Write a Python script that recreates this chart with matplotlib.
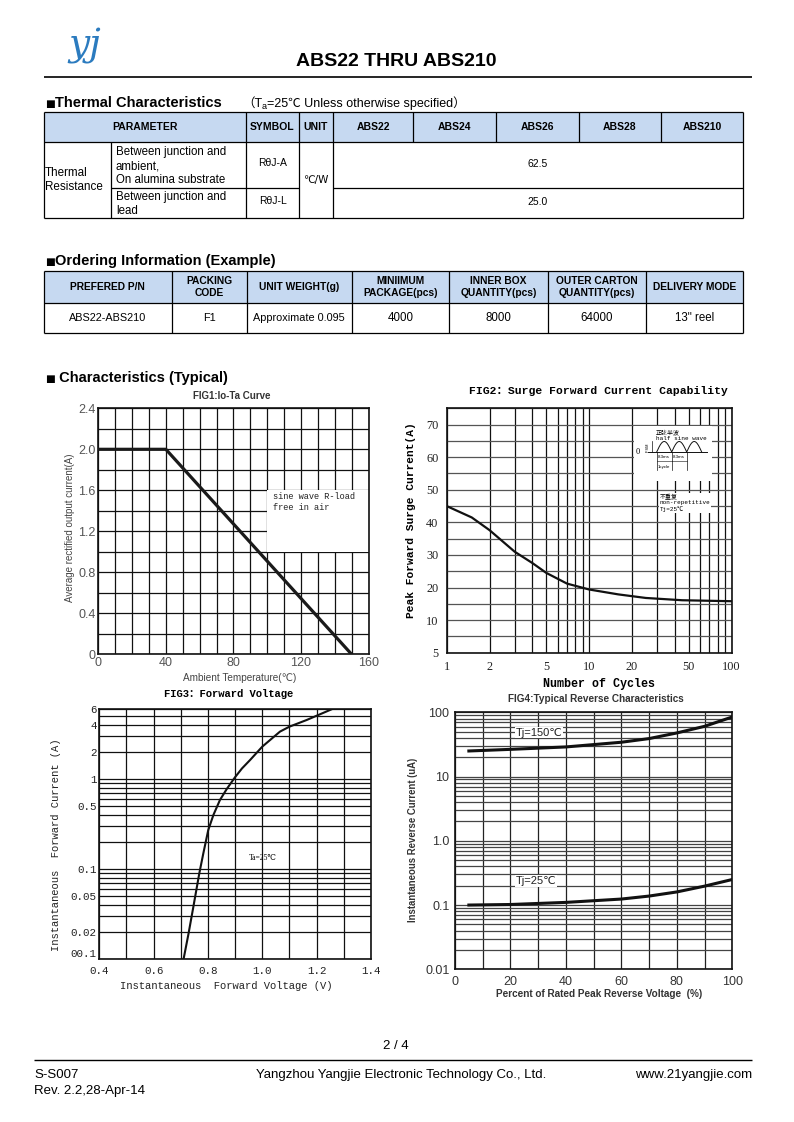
import numpy as np
import matplotlib
matplotlib.use("Agg")
import matplotlib.pyplot as plt
from matplotlib.patches import Rectangle
from matplotlib.ticker import MultipleLocator, LogLocator, NullFormatter

W, H = 794, 1122
SANS = ['Liberation Sans', 'DejaVu Sans', 'Noto Sans CJK SC']
MONO = ['Liberation Mono', 'DejaVu Sans Mono', 'Noto Sans CJK SC']
SERIF = ['Liberation Serif', 'DejaVu Serif', 'Noto Sans CJK SC']
plt.rcParams['font.family'] = SANS

# ---------------- data ----------------
part_names = ["ABS22", "ABS24", "ABS26", "ABS28", "ABS210"]
thermal_head = ["PARAMETER", "SYMBOL", "UNIT"]
thermal_desc = ["Between junction and\nambient,\nOn alumina substrate",
                "Between junction and\nlead"]
thermal_sym = ["R\u03b8J-A", "R\u03b8J-L"]
thermal_val = ["62.5", "25.0"]

order_head = ["PREFERED P/N", "PACKING\nCODE", "UNIT WEIGHT(g)",
              "MINIIMUM\nPACKAGE(pcs)", "INNER BOX\nQUANTITY(pcs)",
              "OUTER CARTON\nQUANTITY(pcs)", "DELIVERY MODE"]
order_row = ["ABS22-ABS210", "F1", "Approximate 0.095", "4000", "8000",
             "64000", "13\" reel"]

# FIG1 Io-Ta
fig1_temp = [0, 40, 150]
fig1_io = [2.0, 2.0, 0.0]
fig1_yt = [0, 0.4, 0.8, 1.2, 1.6, 2.0, 2.4]
fig1_ytl = ["0", "0.4", "0.8", "1.2", "1.6", "2.0", "2.4"]
fig1_xt = [0, 40, 80, 120, 160]

# FIG2 surge current
fig2_cycles = [1, 1.5, 2, 3, 4, 5, 7, 10, 16, 25, 45, 100]
fig2_ifsm = [45, 41.5, 37.6, 31, 27.5, 24.5, 21.2, 19.4, 17.9, 16.8, 16.1, 15.8]
fig2_xt = [1, 2, 5, 10, 20, 50, 100]
fig2_yt = [0, 10, 20, 30, 40, 50, 60, 70]
fig2_ytl = ["5", "10", "20", "30", "40", "50", "60", "70"]

# FIG3 forward voltage
fig3_vf = [0.710, 0.728, 0.746, 0.768, 0.783, 0.801, 0.820, 0.844, 0.869,
           0.899, 0.925, 0.955, 1.000, 1.065, 1.100, 1.163, 1.255]
fig3_if = [0.010, 0.019, 0.038, 0.090, 0.151, 0.273, 0.402, 0.589, 0.78,
           1.05, 1.32, 1.64, 2.31, 3.39, 3.85, 4.56, 6.0]
fig3_xt = [0.4, 0.6, 0.8, 1.0, 1.2, 1.4]
fig3_yt = [0.01, 0.02, 0.05, 0.1, 0.5, 1, 2, 4, 6]
fig3_ytl = ["00.1", "0.02", "0.05", "0.1", "0.5", "1", "2", "4", "6"]

# FIG4 reverse current
fig4_pct = [5, 20, 40, 60, 70, 80, 90, 100]
fig4_i150 = [25, 26.5, 28.9, 34.2, 39, 47.7, 60.5, 84.6]
fig4_i25 = [0.1, 0.102, 0.11, 0.124, 0.138, 0.16, 0.197, 0.25]
fig4_xt = [0, 20, 40, 60, 80, 100]
fig4_yt = [0.01, 0.1, 1, 10, 100]
fig4_ytl = ["0.01", "0.1", "1.0", "10", "100"]


def rect(l, t, r, b):
    return [l / W, 1 - b / H, (r - l) / W, (b - t) / H]


def to_ax(px, py, box):
    l, t, r, b = box
    return (px - l) / (r - l), (b - py) / (b - t)


def style(ax, grid_x='#111', grid_y='#111'):
    ax.grid(which='both', axis='x', color=grid_x, lw=0.9)
    ax.grid(which='both', axis='y', color=grid_y, lw=0.9)
    ax.set_axisbelow(True)
    for s in ax.spines.values():
        s.set_linewidth(1.2)
        s.set_color('#111')
    ax.tick_params(which='both', length=0)


fig = plt.figure(figsize=(W / 100, H / 100), dpi=100)
page = fig.add_axes([0, 0, 1, 1])
page.set_xlim(0, W)
page.set_ylim(H, 0)
page.axis('off')

# ---------------- header ----------------
page.text(68, 55, "yj", fontsize=27, family='DejaVu Serif', style='italic',
          color='#2b7bbf', va='baseline', ha='left')
page.text(396, 61, "ABS22 THRU ABS210", fontsize=14, weight='bold',
          ha='center', va='center')
page.hlines(77, 44, 752, color='black', lw=1.2)


def section(y, text):
    page.text(45, y, "\u25a0", fontsize=7.5, family='DejaVu Sans',
              va='baseline')
    return page.text(55, y, text, fontsize=10.5, weight='bold', va='baseline')


# ---------------- thermal table ----------------
section(106.5, "Thermal Characteristics")
p1 = page.text(242, 106.5, "\uff08T", fontsize=9, va='baseline',
               family=['Liberation Sans', 'Noto Sans CJK SC'])
p2 = page.annotate("a", xy=(1, 0), xycoords=p1, fontsize=6.5, va='bottom',
                   ha='left', xytext=(0, -1), textcoords='offset points')
page.annotate("=25\u2103 Unless otherwise specified\uff09", xy=(1, 0),
              xycoords=(p2, p1), xytext=(0, 0), textcoords='offset points',
              fontsize=9, va='bottom', ha='left',
              family=['Liberation Sans', 'Noto Sans CJK SC'])

tx = [44, 111, 246, 299, 333, 413, 496, 579, 661, 743]
ty = [111.5, 142, 187.5, 218]
page.add_patch(Rectangle((tx[0], ty[0]), tx[-1] - tx[0], ty[1] - ty[0],
                         fc='#c6d9f1', ec='none'))
lw_t = 0.9
page.hlines([ty[0], ty[1], ty[3]], tx[0], tx[-1], color='black', lw=lw_t)
page.hlines(ty[2], tx[1], tx[3], color='black', lw=lw_t)
page.hlines(ty[2], tx[4], tx[-1], color='black', lw=lw_t)
page.vlines([tx[0], tx[2], tx[3], tx[4], tx[-1]], ty[0], ty[3], color='black', lw=lw_t)
page.vlines(tx[1], ty[1], ty[3], color='black', lw=lw_t)
page.vlines(tx[5:9], ty[0], ty[1], color='black', lw=lw_t)

hy = (ty[0] + ty[1]) / 2
page.text((tx[0] + tx[2]) / 2, hy, thermal_head[0], fontsize=7.5, weight='bold', ha='center', va='center')
page.text((tx[2] + tx[3]) / 2, hy, thermal_head[1], fontsize=7.5, weight='bold', ha='center', va='center')
page.text((tx[3] + tx[4]) / 2, hy, thermal_head[2], fontsize=7.5, weight='bold', ha='center', va='center')
for i, name in enumerate(part_names):
    page.text((tx[4 + i] + tx[5 + i]) / 2, hy, name, fontsize=7.5, weight='bold',
              ha='center', va='center')

page.text(44.5, (ty[1] + ty[3]) / 2, "Thermal\nResistance", fontsize=8.4,
          ha='left', va='center', linespacing=1.25)
page.text((tx[3] + tx[4]) / 2, (ty[1] + ty[3]) / 2, "\u2103/W", fontsize=7.5,
          ha='center', va='center', family=['DejaVu Sans'])
for r in range(2):
    yc = (ty[1 + r] + ty[2 + r]) / 2
    page.text(116, yc + 1.5, thermal_desc[r], fontsize=8.3, ha='left',
              va='center', linespacing=1.22)
    page.text((tx[2] + tx[3]) / 2, yc - 2, thermal_sym[r], fontsize=7.5,
              ha='center', va='center')
    page.text((tx[4] + tx[-1]) / 2, yc - 1, thermal_val[r], fontsize=7.5,
              ha='center', va='center')

# ---------------- ordering table ----------------
section(265, "Ordering Information (Example)")
ox = [44, 171.5, 246.5, 351.5, 449, 548, 646, 743]
oy = [271, 303, 333]
page.add_patch(Rectangle((ox[0], oy[0]), ox[-1] - ox[0], oy[1] - oy[0],
                         fc='#c6d9f1', ec='none'))
page.hlines(oy, ox[0], ox[-1], color='black', lw=lw_t)
page.vlines(ox, oy[0], oy[-1], color='black', lw=lw_t)
for i in range(len(order_head)):
    xc = (ox[i] + ox[i + 1]) / 2
    page.text(xc, (oy[0] + oy[1]) / 2, order_head[i], fontsize=7.4,
              weight='bold', ha='center', va='center', linespacing=1.35)
    page.text(xc, (oy[1] + oy[2]) / 2, order_row[i],
              fontsize=8.3 if i >= 3 else 7.8, ha='center', va='center')

# ---------------- characteristics ----------------
section(381.5, " Characteristics (Typical)")

# FIG1
b1 = (98.3, 408.3, 368.5, 654.3)
ax1 = fig.add_axes(rect(*b1))
ax1.plot(fig1_temp, fig1_io, color='#1a1a1a', lw=2.3, zorder=3)
ax1.set_xlim(0, 160)
ax1.set_ylim(0, 2.4)
ax1.set_xticks(fig1_xt)
ax1.xaxis.set_minor_locator(MultipleLocator(10))
ax1.set_yticks(fig1_yt, fig1_ytl)
ax1.yaxis.set_minor_locator(MultipleLocator(0.2))
style(ax1)
ax1.tick_params(labelsize=9, labelcolor='#555', pad=2)
ax1.add_patch(Rectangle((0.625, 0.4167), 0.375, 0.25, transform=ax1.transAxes,
                        fc='white', ec='none', zorder=1.5))
ax1.text(0.645, 0.66, "sine wave R-load\nfree in air", transform=ax1.transAxes,
         fontsize=6.2, family=MONO, va='top', ha='left', color='#222',
         linespacing=1.3)
page.text(232, 395.5, "FIG1:Io-Ta Curve", fontsize=7, weight='bold',
          color='#333', ha='center', va='center')
page.text(70, 528, "Average rectified output current(A)", fontsize=7,
          color='#444', rotation=90, ha='center', va='center')
page.text(240, 678, "Ambient Temperature(\u2103)", fontsize=7.2, color='#444',
          ha='center', va='center')

# FIG2
b2 = (446.7, 408.3, 731.5, 652.7)
ax2 = fig.add_axes(rect(*b2))
ax2.set_xscale('log')
ax2.plot(fig2_cycles, fig2_ifsm, color='#111', lw=1.6, zorder=3)
ax2.set_xlim(1, 100)
ax2.set_ylim(0, 75)
ax2.set_xticks(fig2_xt, [str(v) for v in fig2_xt])
ax2.xaxis.set_minor_locator(LogLocator(base=10, subs=np.arange(2, 10)))
ax2.xaxis.set_minor_formatter(NullFormatter())
ax2.set_yticks(fig2_yt, fig2_ytl)
ax2.yaxis.set_minor_locator(MultipleLocator(5))
style(ax2, grid_x='#111', grid_y='#555')
ax2.tick_params(labelsize=8.8, labelcolor='#222', pad=6)
for lab in ax2.get_xticklabels() + ax2.get_yticklabels():
    lab.set_fontfamily(SERIF)

# inset sketch of the half sine test wave
l0, b0 = to_ax(634, 481, b2)
r0, t0 = to_ax(712, 426, b2)
ax2.add_patch(Rectangle((l0, b0), r0 - l0, t0 - b0, transform=ax2.transAxes,
                        fc='white', ec='none', zorder=1.5))
hump_w = 15.0
xs = np.linspace(0, 3, 241)
wave_x = 656.7 + xs * hump_w
wave_y = 452 - 10.5 * np.abs(np.sin(np.pi * xs))
wx, wy = to_ax(wave_x, wave_y, b2)
ax2.plot(wx, wy, color='#111', lw=0.7, transform=ax2.transAxes, zorder=4)
bx, by = to_ax(np.array([648, 707]), np.array([452, 452]), b2)
ax2.plot(bx, by, color='#111', lw=0.7, transform=ax2.transAxes, zorder=4)
for xv in [656.7, 671.7, 686.7]:
    vx, vy = to_ax(np.array([xv, xv]), np.array([452, 470]), b2)
    ax2.plot(vx, vy, color='#111', lw=0.5, transform=ax2.transAxes, zorder=4)
mx, my = to_ax(np.array([652, 652]), np.array([441.5, 452]), b2)
ax2.plot(mx, my, color='#111', lw=0.5, transform=ax2.transAxes, zorder=4)
for x_a, x_b in [(656.7, 671.7), (671.7, 686.7)]:
    ax_, ay_ = to_ax(np.array([x_a, x_b]), np.array([461, 461]), b2)
    ax2.plot(ax_, ay_, color='#111', lw=0.4, transform=ax2.transAxes, zorder=4)
    cx, cy = to_ax((x_a + x_b) / 2, 459, b2)
    ax2.text(cx, cy, "8.3ms", transform=ax2.transAxes, fontsize=3.2,
             ha='center', va='bottom', zorder=5)
cx, cy = to_ax(664, 467, b2)
ax2.text(cx, cy, "1cycle", transform=ax2.transAxes, fontsize=3.2,
         ha='center', va='center', zorder=5)
cx, cy = to_ax(650, 447, b2)
ax2.text(cx, cy, "IFSM", transform=ax2.transAxes, fontsize=2.8, rotation=90,
         ha='right', va='center', zorder=5)
cx, cy = to_ax(638, 452, b2)
ax2.text(cx, cy, "0", transform=ax2.transAxes, fontsize=6, family=SERIF,
         ha='center', va='center', zorder=5)
cx, cy = to_ax(656, 435, b2)
ax2.text(cx, cy, "\u6b63\u5f26\u534a\u6ce2\nhalf sine wave", transform=ax2.transAxes,
         fontsize=4.3, family=['Liberation Mono', 'Noto Sans CJK SC'],
         ha='left', va='center', linespacing=1.1, zorder=5)
cx, cy = to_ax(660, 503, b2)
ax2.text(cx, cy, "\u4e0d\u91cd\u590d\nnon-repetitive\nTj=25\u2103",
         transform=ax2.transAxes, fontsize=4.3,
         family=['Liberation Mono', 'Noto Sans CJK SC'], ha='left',
         va='center', linespacing=1.1, zorder=5,
         bbox=dict(fc='white', ec='none', pad=0.5))

page.text(598, 391, "FIG2\uff1aSurge Forward Current Capability", fontsize=8.2,
          weight='bold', family=MONO, ha='center', va='center')
page.text(411, 520, "Peak Forward Surge Current(A)", fontsize=8.1,
          weight='bold', family=MONO, rotation=90, ha='center', va='center')
page.text(599, 684, "Number of Cycles", fontsize=8.4, weight='bold',
          family=MONO, ha='center', va='center')

# FIG3
b3 = (99.3, 709.3, 371, 959.3)
ax3 = fig.add_axes(rect(*b3))
ax3.set_yscale('log')
ax3.plot(fig3_vf, fig3_if, color='#111', lw=1.5, zorder=3)
ax3.set_xlim(0.4, 1.4)
ax3.set_ylim(0.01, 6)
ax3.set_xticks(fig3_xt, ["%.1f" % v for v in fig3_xt])
ax3.xaxis.set_minor_locator(MultipleLocator(0.1))
ax3.set_yticks(fig3_yt, fig3_ytl)
ax3.yaxis.set_minor_locator(LogLocator(base=10, subs=np.arange(1, 10)))
ax3.yaxis.set_minor_formatter(NullFormatter())
style(ax3)
ax3.tick_params(labelsize=7.8, labelcolor='#222', pad=2)
ax3.tick_params(axis='x', pad=5)
for lab in ax3.get_xticklabels() + ax3.get_yticklabels():
    lab.set_fontfamily(MONO)
ax3.get_yticklabels()[0].set_verticalalignment('bottom')
cx, cy = to_ax(263, 858, b3)
ax3.text(cx, cy, "Ta=25\u2103", transform=ax3.transAxes, fontsize=5.5,
         family=SERIF, ha='center', va='center')
page.text(229, 694, "FIG3\uff1aForward Voltage", fontsize=7.6, weight='bold',
          family=MONO, ha='center', va='center')
page.text(56, 845, "Instantaneous  Forward Current (A)", fontsize=7.6,
          family=MONO, rotation=90, ha='center', va='center', color='#222')
page.text(226, 986, "Instantaneous  Forward Voltage (V)", fontsize=7.6,
          family=MONO, ha='center', va='center', color='#222')

# FIG4
b4 = (455, 712.3, 732.3, 969.3)
ax4 = fig.add_axes(rect(*b4))
ax4.set_yscale('log')
ax4.plot(fig4_pct, fig4_i150, color='#111', lw=2.2, zorder=3)
ax4.plot(fig4_pct, fig4_i25, color='#111', lw=2.2, zorder=3)
ax4.set_xlim(0, 100)
ax4.set_ylim(0.01, 100)
ax4.set_xticks(fig4_xt)
ax4.xaxis.set_minor_locator(MultipleLocator(10))
ax4.set_yticks(fig4_yt, fig4_ytl)
ax4.yaxis.set_minor_locator(LogLocator(base=10, subs=np.arange(2, 10)))
ax4.yaxis.set_minor_formatter(NullFormatter())
style(ax4, grid_x='#222', grid_y='#444')
ax4.tick_params(labelsize=9, labelcolor='#333', pad=5)
ax4.tick_params(axis='y', pad=4)
for label, px, py in [("Tj=150\u2103", 539, 732.5), ("Tj=25\u2103", 536, 881)]:
    cx, cy = to_ax(px, py, b4)
    ax4.text(cx, cy, label, transform=ax4.transAxes, fontsize=8,
             color='#222', ha='center', va='center', zorder=4,
             family=['Liberation Sans', 'DejaVu Sans'],
             bbox=dict(fc='white', ec='none', pad=0.6))
page.text(596, 699, "FIG4:Typical Reverse Characteristics", fontsize=7.2,
          weight='bold', color='#333', ha='center', va='center')
page.text(599, 994, "Percent of Rated Peak Reverse Voltage  (%)", fontsize=7.2,
          weight='bold', color='#333', ha='center', va='center')
page.text(412.5, 840, "Instantaneous Reverse Current (uA)", fontsize=6.9,
          weight='bold', color='#333', rotation=90, ha='center', va='center')

# ---------------- footer ----------------
page.text(396, 1046, "2 / 4", fontsize=9.5, ha='center', va='center')
page.hlines(1060, 34, 752, color='black', lw=1.0)
page.text(34, 1075, "S-S007", fontsize=9.5, ha='left', va='center')
page.text(34, 1091, "Rev. 2.2,28-Apr-14", fontsize=9.5, ha='left', va='center')
page.text(401, 1075, "Yangzhou Yangjie Electronic Technology Co., Ltd.",
          fontsize=9.5, ha='center', va='center')
page.text(752, 1075, "www.21yangjie.com", fontsize=9.5, ha='right', va='center')

fig.savefig("out.png", dpi=100)
